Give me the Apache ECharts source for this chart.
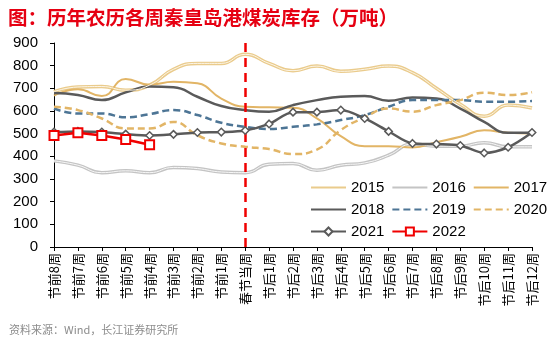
<!DOCTYPE html>
<html><head><meta charset="utf-8">
<script src="https://cdn.jsdelivr.net/npm/echarts@6/dist/echarts.min.js"></script>
<style>html,body{margin:0;padding:0;background:#fff;}#c{width:547px;height:340px;}</style>
</head><body><div id="c"></div>
<script>
const categories = ['节前8周','节前7周','节前6周','节前5周','节前4周','节前3周','节前2周','节前1周','春节当周','节后1周','节后2周','节后3周','节后4周','节后5周','节后6周','节后7周','节后8周','节后9周','节后10周','节后11周','节后12周'];
const yTicks = [0,100,200,300,400,500,600,700,800,900];
const s2015 = [685,706,708,692,714,784,810,810,850,810,778,798,775,784,798,769,700,630,577,626,613];
const s2016 = [380,361,328,336,328,351,346,331,328,365,368,339,361,371,405,454,445,445,460,442,442];
const s2017 = [668,696,666,741,716,729,722,655,619,616,614,567,489,445,445,439,462,486,515,504,501];
const s2018 = [679,671,648,682,708,705,663,622,604,597,626,648,663,666,645,660,655,611,552,504,504];
const s2019 = [611,589,589,572,586,604,582,548,530,521,530,541,560,582,619,648,648,648,641,641,644];
const s2020 = [619,604,567,523,523,552,493,457,442,432,410,430,516,572,611,597,626,648,681,670,683];
const s2021 = [507,510,507,498,492,497,505,507,514,543,595,595,604,567,510,457,454,448,415,440,505];
const s2022 = [492,504,492,474,451,null,null,null,null,null,null,null,null,null,null,null,null,null,null,null,null];
const legendNames = ['2015','2016','2017','2018','2019','2020','2021','2022'];
const markerNames = ['2021','2022'];

const FONT = '"Liberation Sans", Arial, "Noto Sans CJK SC", sans-serif';
const chart = echarts.init(document.getElementById('c'), null, {renderer:'canvas'});
function line(name, data, color, width, type, extra) {
  return Object.assign({
    name, type:'line', data, smooth:true, showSymbol:false, symbol:'none',
    lineStyle:{color, width, type: type||'solid'}, itemStyle:{color},
    emphasis:{disabled:true}, z:2
  }, extra||{});
}
const option = {
  animation:false,
  title:[{
    text:'图：历年农历各周秦皇岛港煤炭库存（万吨）', left:3, top:3,
    textStyle:{color:'#E60012', fontSize:19.5, fontWeight:'bold', fontFamily:'"Noto Sans CJK SC", sans-serif'}
  },{
    text:'资料来源：Wind，长江证券研究所', left:4, top:319,
    textStyle:{color:'#8c8c8c', fontSize:11, fontWeight:'normal', fontFamily:'"Noto Sans CJK SC", sans-serif'}
  }],
  grid:{left:54, right:15, top:43, bottom:93, containLabel:false},
  legend:{
    data: legendNames.map(n => markerNames.includes(n) ? {name:n} :
      {name:n, itemStyle:{opacity:0, color:'rgba(0,0,0,0)', borderColor:'rgba(0,0,0,0)', borderWidth:0}}),
    left:305, top:175, width:245, itemWidth:35, itemHeight:10, itemGap:7,
    textStyle:{fontSize:15, color:'#000', fontFamily:FONT}
  },
  xAxis:{
    type:'category', data:categories, boundaryGap:false,
    axisLine:{lineStyle:{color:'#000', width:1}},
    axisTick:{show:true, inside:false, length:4, alignWithLabel:true, lineStyle:{color:'#000'}},
    axisLabel:{rotate:90, fontSize:13, color:'#000', margin:6, interval:0, fontFamily:'"Noto Sans CJK SC", sans-serif'},
    splitLine:{show:false}
  },
  yAxis:{
    type:'value', min:yTicks[0], max:yTicks[yTicks.length-1], interval:100,
    axisLine:{show:true, lineStyle:{color:'#000', width:1}},
    axisTick:{show:true, length:4, lineStyle:{color:'#000'}},
    axisLabel:{fontSize:15, color:'#000', margin:16, fontFamily:FONT},
    splitLine:{show:false}
  },
  series:[
    line('2015', s2015, '#EACB8C', 3.5),
    line('2015inner', s2015, '#FCF5E6', 1, 'solid', {z:3}),
    line('2016', s2016, '#C4C4C4', 3.5),
    line('2016inner', s2016, '#F7F7F7', 1, 'solid', {z:3}),
    line('2017', s2017, '#E2B566', 2),
    line('2018', s2018, '#5A5A5A', 2.5),
    line('2019', s2019, '#4D7595', 2.5, [7,4]),
    line('2020', s2020, '#E2B566', 2.5, [7,4]),
    line('2021', s2021, '#5A5A5A', 2.5, 'solid', {
      smooth:0.3, showSymbol:true, symbol:'diamond', symbolSize:7.5, z:5,
      itemStyle:{color:'#fff', borderColor:'#5A5A5A', borderWidth:1.5}
    }),
    line('2022', s2022, '#F00000', 2.5, 'solid', {
      smooth:false, showSymbol:true, symbol:'rect', symbolSize:9, z:6,
      itemStyle:{color:'#fff', borderColor:'#F00000', borderWidth:2},
      markLine:{silent:true, symbol:['none','none'], label:{show:false},
        lineStyle:{color:'#F00000', type:[9,6], width:2.5},
        data:[{xAxis:'春节当周'}]}
    })
  ]
};
chart.setOption(option);
</script></body></html>
